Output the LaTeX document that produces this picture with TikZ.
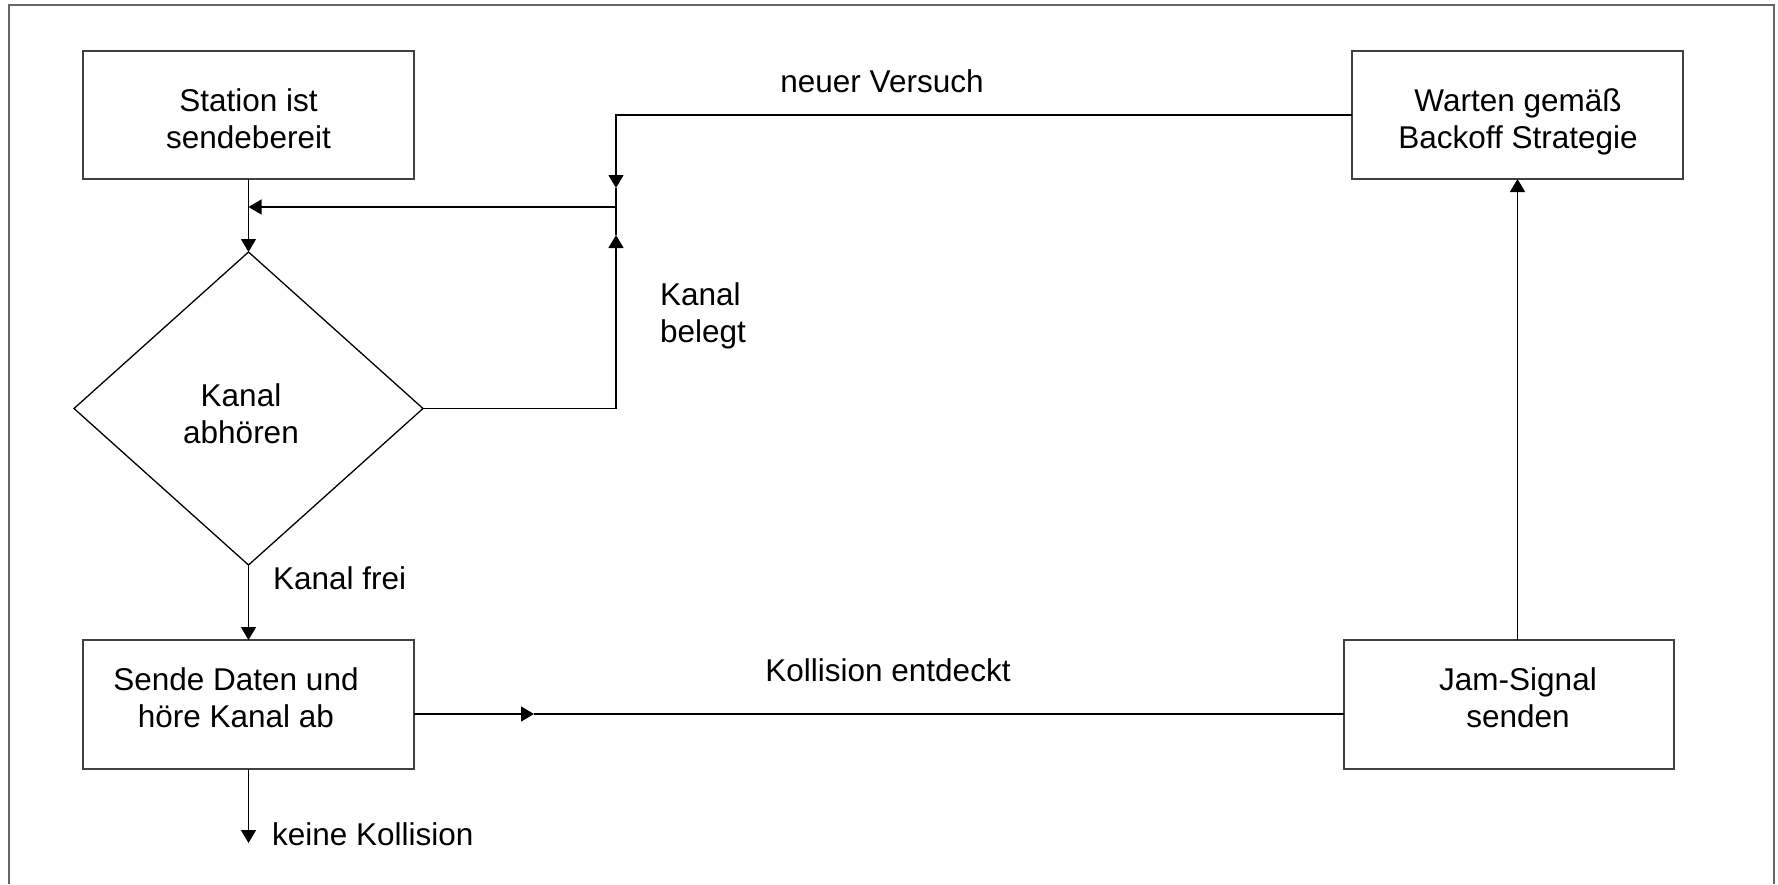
\documentclass[tikz,border=0pt]{standalone}
\usepackage{fontspec}
\setmainfont{Liberation Sans}
\usetikzlibrary{arrows.meta,shapes.geometric}
\newcommand\twoline[1]{\begin{tabular}[t]{@{}c@{}}#1\end{tabular}}
\newcommand\twolineL[1]{\begin{tabular}[t]{@{}l@{}}#1\end{tabular}}
\begin{document}
\begin{tikzpicture}[x=1pt,y=-1pt,
  box/.style={draw=black!75,line width=1.6pt,rectangle,inner sep=0pt,outer sep=0pt,minimum width=331pt,minimum height=128pt},
  dia/.style={draw=black,line width=1.3pt,shape=diamond,inner sep=0pt,outer sep=0pt,minimum width=349pt,minimum height=313pt},
  con/.style={draw=black,line width=1.4pt},
  arr/.style={con,-{Triangle[length=13pt,width=15pt]}},
  txt/.style={inner sep=0pt,outer sep=0pt,anchor=base,font=\fontsize{31.5}{37}\selectfont},
  frame/.style={draw=black!60,line width=1.8pt}]
\useasboundingbox (0,0) rectangle (1778,884);
\draw[frame] (9,884) -- (9,5) -- (1774,5) -- (1774,884);

\node[box] (station) at (248.5,115) {};
\node[box] (warten) at (1517.5,115) {};
\node[box,minimum height=129pt] (sende) at (248.5,704.5) {};
\node[box,minimum height=129pt,minimum width=330pt] (jam) at (1509,704.5) {};
\node[dia] (diamond) at (248.5,408.5) {};

\node[txt] (tstation) at (248.5,111) {\twoline{Station ist\\sendebereit}};
\node[txt] (twarten) at (1518,111) {\twoline{Warten gemäß\\Backoff Strategie}};
\node[txt] (tdia) at (241,406) {\twoline{Kanal\\abhören}};
\node[txt] (tsende) at (236,690) {\twoline{Sende Daten und\\höre Kanal ab}};
\node[txt] (tjam) at (1518,690) {\twoline{Jam-Signal\\senden}};

\node[txt] (lneu) at (882,92) {neuer Versuch};
\node[txt,anchor=base west] (lbelegt) at (660,305) {\twolineL{Kanal\\belegt}};
\node[txt,anchor=base west] (lfrei) at (273,589) {Kanal frei};
\node[txt] (lkoll) at (888,681) {Kollision entdeckt};
\node[txt,anchor=base west] (lkeine) at (272,845) {keine Kollision};

\coordinate (j) at (616,207);
\coordinate (jt) at (616,188);
\coordinate (jb) at (616,235);
\coordinate (kmid) at (534,714);
\coordinate (kend) at (248.5,843);

\draw[arr] (station.south) -- (diamond.north);
\draw[arr] (j) -- (j -| station.south);
\draw[arr] (warten.west) -- (warten.west -| j) -- (jt);
\draw[arr] (diamond.east) -- (diamond.east -| j) -- (jb);
\draw[con] (jt) -- (jb);
\draw[arr] (diamond.south) -- (sende.north);
\draw[arr] (sende.east |- kmid) -- (kmid);
\draw[con] (kmid) -- (jam.west |- kmid);
\draw[arr] (jam.north -| warten.south) -- (warten.south);
\draw[arr] (sende.south) -- (kend);
\end{tikzpicture}
\end{document}
